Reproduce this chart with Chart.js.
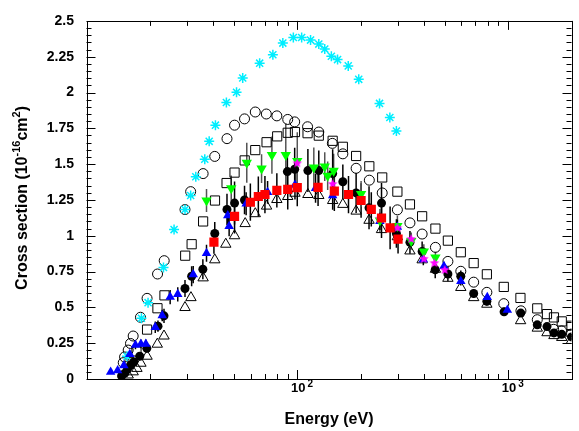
<!DOCTYPE html>
<html><head><meta charset="utf-8">
<script src="https://cdn.jsdelivr.net/npm/chart.js@4"></script>
<style>html,body{margin:0;padding:0;background:#fff}canvas{display:block}</style>
</head><body>
<canvas id="c" width="579" height="431"></canvas>
<script>
// ---------------- data (energy in eV, cross section in 1e-16 cm^2) ----------------
const cyanE = [15.57,18.22,19.59,23.19,26.03,29.33,31.2,33.0,36.4,38.2,40.9,46.1,51.5,55.1,66.3,76.6,85.4,95.8,104.9,115.6,126.5,135,145.1,155.3,174.5,195.7,245.6,274.9,295.3];
const cyanS = [0.159,0.424,0.533,0.779,1.043,1.183,1.281,1.412,1.534,1.659,1.772,1.930,2.002,2.101,2.205,2.264,2.345,2.384,2.384,2.366,2.338,2.303,2.253,2.230,2.186,2.092,1.924,1.826,1.731];

const openCircE = [14.94,15.16,15.77,16.17,16.65,18.03,19.38,21.73,23.37,29.33,31.2,35.75,40.6,46.4,50.4,56.2,63.2,71.3,80.0,90.1,97.2,111.9,126.5,146.7,164.5,190.2,219.7,252.9,298.5,342.4,391.2,452.3,518.3,596.8,687,793.4,954.5,1151,1376,1646,1794,2000];
const openCircS = [0.114,0.154,0.202,0.248,0.300,0.431,0.563,0.733,0.826,1.183,1.308,1.434,1.554,1.678,1.772,1.816,1.864,1.850,1.837,1.812,1.795,1.761,1.724,1.645,1.572,1.471,1.388,1.299,1.181,1.090,1.012,0.919,0.821,0.752,0.676,0.605,0.526,0.476,0.414,0.347,0.336,0.314];

const openSqE = [16.0,17.26,19.38,21.71,23.44,29.40,31.54,35.75,40.7,46.2,50.4,56.3,63.2,71.5,80.3,90.1,97.5,111.9,126.5,147.2,164.5,190.2,219.7,252.9,298.5,342.4,391.2,452.3,518.3,596.8,687,793.4,954.5,1145,1376,1530,1651,1798,2000];
const openSqS = [0.117,0.193,0.345,0.494,0.584,0.861,0.941,1.100,1.246,1.368,1.441,1.526,1.598,1.653,1.694,1.719,1.724,1.716,1.699,1.663,1.621,1.557,1.485,1.407,1.308,1.219,1.136,1.050,0.966,0.885,0.809,0.731,0.643,0.566,0.493,0.453,0.430,0.402,0.372];

const openTriE = [15.77,16.65,17.35,18.12,19.38,21.67,23.32,29.33,31.3,35.75,40.6,45.8,50.4,56.6,63.2,71.5,80.0,90.1,97.5,112.3,126.5,147.2,164.5,190.2,219,251,298.5,342.4,391.2,452.3,518.3,596.8,687,793.4,1147,1376,1530,1651,1798,2000];
const openTriS = [0.028,0.050,0.074,0.110,0.159,0.243,0.300,0.499,0.568,0.706,0.832,0.941,1.000,1.085,1.154,1.207,1.253,1.274,1.297,1.288,1.281,1.246,1.219,1.172,1.108,1.043,0.993,0.894,0.832,0.766,0.703,0.639,0.568,0.522,0.407,0.355,0.323,0.303,0.290,0.269];

const blackE = [14.67,15.2,15.65,16.17,16.76,17.89,19.33,21.83,23.32,29.33,31.54,35.65,40.6,46.4,50.4,56.2,89.75,97.2,112.3,126.5,147.2,164.5,190.2,219,251,295.3,342.4,391.2,451.3,518.3,596.8,687,793.4,957.6,1149,1376,1530,1651,1798,2000];
const blackS = [0.021,0.041,0.069,0.097,0.119,0.159,0.214,0.369,0.441,0.632,0.717,0.766,1.016,1.184,1.228,1.250,1.448,1.464,1.455,1.455,1.434,1.377,1.299,1.195,1.228,1.016,0.954,0.890,0.763,0.733,0.717,0.597,0.543,0.469,0.460,0.378,0.366,0.322,0.312,0.294];
const blackErr = [0.01,0.01,0.01,0.015,0.02,0.02,0.03,0.04,0.05,0.06,0.07,0.07,0.08,0.11,0.15,0.10,0.13,0.15,0.15,0.14,0.17,0.12,0.14,0.15,0.14,0.10,0.08,0.07,0.06,0.05,0.04,0.03,0.03,0.03,0.02,0.02,0.02,0.02,0.02,0.02];

const blueE = [13.02,14.05,15.04,16.05,17.07,18.12,19.12,21.2,22.87,24.94,27.1,32.08,37.1,46.8,47.5,57.2,72.3,97.5,122.1,147.2,246.6,298.5,396.3,496.4,596.8,796.9,992.4];
const blueS = [0.048,0.059,0.094,0.172,0.238,0.245,0.245,0.361,0.443,0.572,0.591,0.729,0.878,1.141,1.067,1.223,1.303,1.354,1.331,1.281,1.101,1.062,0.834,0.788,0.683,0.571,0.481];
const blueErr = [0.01,0.01,0.015,0.02,0.03,0.03,0.03,0.04,0.04,0.05,0.05,0.06,0.06,0.07,0.07,0.08,0.08,0.10,0.10,0.10,0.06,0.05,0.04,0.03,0.03,0.02,0.02];

const greenE = [37.1,48.6,57.6,67.7,75.8,88.2,100,119.8,135,139.4,148.8,200.8,246.6,298.5,347.3,398.5,452.3];
const greenS = [1.246,1.331,1.510,1.469,1.563,1.563,1.522,1.476,1.483,1.419,1.453,1.292,1.107,1.069,0.963,0.890,0.848];
const greenErr = [0.08,0.09,0.14,0.10,0.13,0.22,0.20,0.14,0.10,0.10,0.12,0.09,0.08,0.07,0.06,0.05,0.04];

const redE = [40.23,50.4,59.9,65.35,70.24,80.0,90.1,100,125.5,149.9,175.0,200.8,224.5,251,275.7,300.7];
const redS = [0.955,1.136,1.234,1.274,1.288,1.317,1.324,1.336,1.338,1.312,1.288,1.246,1.184,1.124,1.055,0.977];
const redErr = [0.08,0.12,0.13,0.14,0.13,0.12,0.14,0.13,0.13,0.14,0.13,0.12,0.12,0.14,0.15,0.10];

const magE = [100,147.2,246.6,298.5,347.3,398.5,447.4,500.2];
const magS = [1.506,1.361,1.119,1.055,0.977,0.839,0.809,0.761];

// axis ticks / labels
const yTickLabels = ['0','0.25','0.5','0.75','1','1.25','1.5','1.75','2','2.25','2.5'];
const xTickValues = [20,30,40,50,60,70,80,90,100,200,300,400,500,600,700,800,900,1000,2000];
const xMajorTicks = [100,1000];
const xMajorLabelExp = ['2','3'];
const xTitle = 'Energy (eV)';
const yTitleParts = [['Cross section (10',false],['-16',true],['cm',false],['2',true],[')',false]];

// ---------------- helpers ----------------
const FONT = '"Liberation Sans", Arial, Helvetica, sans-serif';
function pts(xs, ys){ return xs.map((v,i)=>({x:v, y:ys[i]})); }
function starCanvas(color, r){
  const c = document.createElement('canvas'); c.width = c.height = 2*r+2;
  const g = c.getContext('2d'); g.fillStyle = color; g.beginPath();
  for (let i=0;i<10;i++){ const a=-Math.PI/2+i*Math.PI/5; const rr=(i%2)?r*0.45:r; g.lineTo(r+1+rr*Math.cos(a), r+1+rr*Math.sin(a)); }
  g.closePath(); g.fill(); return c;
}

const errorBars = {
  id:'errorBars',
  beforeDatasetsDraw(chart){
    const {ctx, scales:{x,y}} = chart;
    ctx.save();
    const a = chart.chartArea;
    ctx.beginPath(); ctx.rect(a.left, a.top, a.right-a.left, a.bottom-a.top); ctx.clip();
    chart.data.datasets.forEach(ds=>{
      if (!ds.errors) return;
      ctx.strokeStyle = ds.errColor || '#000'; ctx.lineWidth = 1.5;
      ctx.beginPath();
      ds.data.forEach((p,i)=>{
        const e = ds.errors[i]; if (!e) return;
        const px = x.getPixelForValue(p.x);
        ctx.moveTo(px, y.getPixelForValue(p.y - e));
        ctx.lineTo(px, y.getPixelForValue(p.y + e));
      });
      ctx.stroke();
    });
    ctx.restore();
  }
};

const frameAndText = {
  id:'frameAndText',
  afterDraw(chart){
    const {ctx, chartArea:a, scales:{x,y}} = chart;
    ctx.save();
    ctx.strokeStyle = '#000'; ctx.lineWidth = 1;
    ctx.beginPath();
    for (let k=0;k<=50;k++){
      const py = Math.round(y.getPixelForValue(k*0.05)) + 0.5;
      const len = (k%5===0) ? 9 : 5;
      ctx.moveTo(a.left, py); ctx.lineTo(a.left+len, py);
      ctx.moveTo(a.right, py); ctx.lineTo(a.right-len, py);
    }
    xTickValues.forEach(v=>{
      const px = Math.round(x.getPixelForValue(v)) + 0.5;
      const len = xMajorTicks.includes(v) ? 9 : 5;
      ctx.moveTo(px, a.bottom); ctx.lineTo(px, a.bottom-len);
      ctx.moveTo(px, a.top); ctx.lineTo(px, a.top+len);
    });
    ctx.stroke();
    ctx.strokeRect(Math.round(a.left)+0.5, Math.round(a.top)+0.5, Math.round(a.right-a.left), Math.round(a.bottom-a.top));

    // x tick labels 10^n
    ctx.fillStyle = '#000'; ctx.textBaseline = 'alphabetic';
    xMajorTicks.forEach((v,i)=>{
      const px = x.getPixelForValue(v);
      ctx.font = 'bold 13px ' + FONT; ctx.textAlign = 'center';
      ctx.fillText('10', px+1, 392);
      const w = ctx.measureText('10').width;
      ctx.font = 'bold 10px ' + FONT; ctx.textAlign = 'left';
      ctx.fillText(xMajorLabelExp[i], px+1+w/2+2, 387);
    });
    // x title
    ctx.font = 'bold 16px ' + FONT; ctx.textAlign = 'center';
    ctx.fillText(xTitle, (a.left+a.right)/2, 424);
    // y title (rotated, with superscripts)
    ctx.translate(26.5, (a.top+a.bottom)/2 - 2);
    ctx.rotate(-Math.PI/2);
    ctx.textAlign = 'left';
    let total = 0;
    const widths = yTitleParts.map(([t,sup])=>{ ctx.font = 'bold ' + (sup?11:16) + 'px ' + FONT; const w = ctx.measureText(t).width; total += w; return w; });
    let cx = -total/2;
    yTitleParts.forEach(([t,sup],i)=>{
      ctx.font = 'bold ' + (sup?11:16) + 'px ' + FONT;
      ctx.fillText(t, cx, sup ? -7 : 0);
      cx += widths[i];
    });
    ctx.restore();
  }
};

const hollow = 'rgba(0,0,0,0)';
const datasets = [
  {label:'red', data:pts(redE,redS), errors:redErr, errColor:'#000', pointStyle:'rect', pointRadius:6.5, backgroundColor:'#ff0000', borderColor:'#ff0000', borderWidth:0},
  {label:'magenta', data:pts(magE,magS), pointStyle:starCanvas('#ff00ff',5), pointRadius:5, backgroundColor:'#ff00ff', borderColor:'#ff00ff'},
  {label:'green', data:pts(greenE,greenS), errors:greenErr, errColor:'#555', pointStyle:'triangle', pointRotation:180, pointRadius:6, backgroundColor:'#00ff00', borderColor:'#00ff00', borderWidth:0},
  {label:'blue', data:pts(blueE,blueS), errors:blueErr, errColor:'#000', pointStyle:'triangle', pointRadius:5.5, backgroundColor:'#0000ff', borderColor:'#0000ff', borderWidth:0},
  {label:'black', data:pts(blackE,blackS), errors:blackErr, errColor:'#000', pointStyle:'circle', pointRadius:4.5, backgroundColor:'#000', borderColor:'#000', borderWidth:0},
  {label:'cyan', data:pts(cyanE,cyanS), pointStyle:'star', pointRadius:5, backgroundColor:'#00ffff', borderColor:'#00eeff', borderWidth:1.5},
  {label:'openCirc', data:pts(openCircE,openCircS), pointStyle:'circle', pointRadius:5, backgroundColor:hollow, borderColor:'#000', borderWidth:1},
  {label:'openSq', data:pts(openSqE,openSqS), pointStyle:'rect', pointRadius:6.5, backgroundColor:hollow, borderColor:'#000', borderWidth:1},
  {label:'openTri', data:pts(openTriE,openTriS), pointStyle:'triangle', pointRadius:6, backgroundColor:hollow, borderColor:'#000', borderWidth:1}
];
datasets.forEach(d=>{ d.showLine = false; d.pointHoverRadius = d.pointRadius; });

new Chart(document.getElementById('c'), {
  type:'scatter',
  data:{datasets},
  options:{
    responsive:false, animation:false, events:[], devicePixelRatio:1,
    layout:{padding:{left:0, top:16, right:4, bottom:0}},
    plugins:{legend:{display:false}, tooltip:{enabled:false}},
    scales:{
      x:{type:'logarithmic', min:10, max:2000,
         grid:{display:false}, border:{display:false},
         ticks:{display:false},
         afterFit(s){ s.height = 52; }},
      y:{type:'linear', min:0, max:2.5,
         grid:{display:false, drawTicks:false}, border:{display:false},
         ticks:{stepSize:0.25, padding:12.5, color:'#000',
                font:{family:FONT, size:14, weight:'bold'},
                callback:(v)=> yTickLabels[Math.round(v/0.25)]},
         afterFit(s){ s.width = 86.5; }}
    }
  },
  plugins:[errorBars, frameAndText]
});
</script></body></html>
